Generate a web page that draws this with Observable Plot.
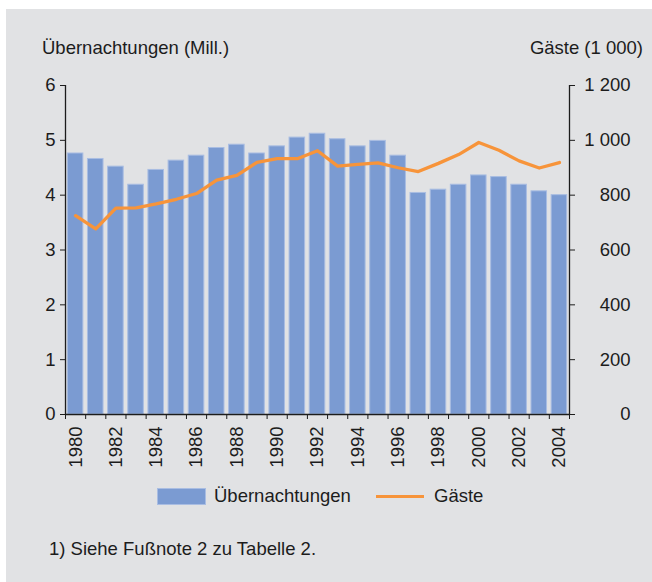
<!DOCTYPE html>
<html>
<head>
<meta charset="utf-8">
<script src="https://cdn.jsdelivr.net/npm/d3@7"></script>
<script src="https://cdn.jsdelivr.net/npm/@observablehq/plot@0.6"></script>
<style>
  html, body { margin: 0; padding: 0; background: #ffffff; }
  body { width: 652px; height: 582px; position: relative; overflow: hidden;
         font-family: "Liberation Sans", Arial, Helvetica, sans-serif; color: #1c1c1c; }
  #panel { position: absolute; left: 6px; top: 9px; width: 646px; height: 573px; background: #e1e2e4; }
  #chart { position: absolute; left: 0; top: 0; }
  .txt { position: absolute; font-size: 18.5px; line-height: 20px; white-space: nowrap; }
  .swatch { position: absolute; }
</style>
</head>
<body>
<div id="panel"></div>
<div id="chart"></div>
<div class="txt" style="left:42px; top:38px;">Übernachtungen (Mill.)</div>
<div class="txt" style="right:9px; top:38px;">Gäste (1 000)</div>
<div class="swatch" style="left:157px; top:488px; width:47px; height:15px; background:#7b9bd2; border:1px solid #a9bde2;"></div>
<div class="txt" style="left:214px; top:486px;">Übernachtungen</div>
<div class="swatch" style="left:376px; top:495px; width:48px; height:3px; background:#f7943a;"></div>
<div class="txt" style="left:434px; top:486px;">Gäste</div>
<div class="txt" style="left:49px; top:539px;">1) Siehe Fußnote 2 zu Tabelle 2.</div>
<script>
const years = [1980,1981,1982,1983,1984,1985,1986,1987,1988,1989,1990,1991,1992,1993,1994,1995,1996,1997,1998,1999,2000,2001,2002,2003,2004];
const overnight = [4.76,4.66,4.52,4.19,4.46,4.63,4.72,4.86,4.92,4.76,4.89,5.05,5.12,5.02,4.89,4.99,4.72,4.04,4.10,4.19,4.36,4.33,4.19,4.07,4.00];
const guests = [725,677,753,754,768,785,806,855,872,920,933,933,962,906,912,918,900,886,916,948,992,964,925,899,919];
const yTicks = [0,1,2,3,4,5,6];
const guestsPerUnit = 200;
const evenYears = years.filter(y => y % 2 === 0);
const xDomain = [years[0] - 0.5, years[years.length - 1] + 0.5];
const bandEdges = [xDomain[0], ...years.map(y => y + 0.5)];

const rows = years.map((year, i) => ({year, overnight: overnight[i], guests: guests[i]}));
const fmt = d3.formatLocale({thousands: " ", grouping: [3], decimal: ","}).format(",");

const chart = Plot.plot({
  width: 652, height: 471,
  marginLeft: 65, marginRight: 83, marginTop: 85, marginBottom: 57,
  style: {background: "transparent", fontFamily: "'Liberation Sans', Arial, sans-serif", fontSize: "18.5px", color: "#1c1c1c"},
  x: {type: "linear", domain: xDomain, axis: null},
  y: {domain: [0, 6], axis: null},
  marks: [
    Plot.rect(rows, {x1: d => d.year - 0.5, x2: d => d.year + 0.5, y1: 0, y2: "overnight",
      insetLeft: 2.3, insetRight: 2.3, fill: "#7b9bd2", stroke: "#a9bde2", strokeWidth: 1}),
    Plot.line(rows, {x: "year", y: d => d.guests / guestsPerUnit, stroke: "#f7943a", strokeWidth: 3.3}),
    Plot.ruleY([0], {stroke: "#1c1c1c", strokeWidth: 1.3}),
    Plot.ruleX(xDomain, {stroke: "#1c1c1c", strokeWidth: 1.3}),
    Plot.axisY({anchor: "left", ticks: yTicks, tickSize: 5, tickPadding: 5, tickFormat: "d", label: null, stroke: "#1c1c1c"}),
    Plot.axisY({anchor: "right", ticks: yTicks, tickSize: 5, tickPadding: 56, textAnchor: "end",
      tickFormat: d => fmt(d * guestsPerUnit), label: null, stroke: "#1c1c1c"}),
    Plot.axisX({ticks: bandEdges, tickSize: 5, tickFormat: () => "", label: null, stroke: "#1c1c1c"}),
    Plot.axisX({ticks: evenYears, tickSize: 0, tickPadding: 12, tickRotate: -90, tickFormat: "d", label: null})
  ]
});
document.getElementById("chart").appendChild(chart);
</script>
</body>
</html>
